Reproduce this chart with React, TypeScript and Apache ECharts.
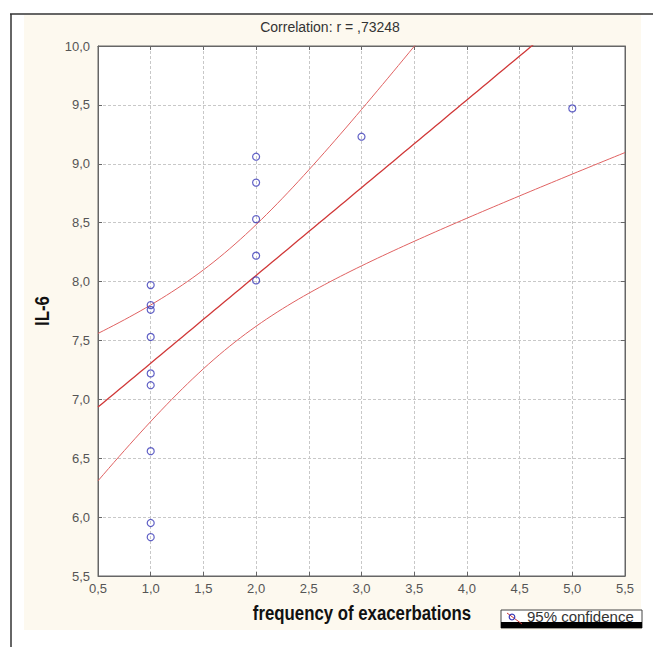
import React, { useEffect, useRef } from "react";
import * as echarts from "echarts";

// Observed points: frequency of exacerbations (x) vs IL-6 (y)
const xValues = [1, 1, 1, 1, 1, 1, 1, 1, 1, 2, 2, 2, 2, 2, 3, 5];
const yValues = [7.97, 7.8, 7.76, 7.53, 7.22, 7.12, 6.56, 5.95, 5.83, 9.06, 8.84, 8.53, 8.22, 8.01, 9.23, 9.47];
const xTicks = [0.5, 5.5, 0.5]; // min, max, interval
const yTicks = [5.5, 10, 0.5];
const titleText = "Correlation: r = ,73248";
const xName = "frequency of exacerbations";
const yName = "IL-6";
const legendText = "95% confidence";
const T_975_DF14 = 2.1448;

function fitStats() {
  const n = xValues.length;
  const mx = xValues.reduce((a, b) => a + b, 0) / n;
  const my = yValues.reduce((a, b) => a + b, 0) / n;
  let sxx = 0, sxy = 0;
  for (let i = 0; i < n; i++) {
    sxx += (xValues[i] - mx) ** 2;
    sxy += (xValues[i] - mx) * (yValues[i] - my);
  }
  const b = sxy / sxx;
  const a = my - b * mx;
  let sse = 0;
  for (let i = 0; i < n; i++) sse += (yValues[i] - (a + b * xValues[i])) ** 2;
  const s = Math.sqrt(sse / (n - 2));
  return { n, mx, sxx, a, b, s };
}

const fmt = (v: number) => v.toFixed(1).replace(".", ",");

export default function App() {
  const ref = useRef<HTMLDivElement>(null);
  useEffect(() => {
    document.body.style.margin = "0";
    if (!ref.current) return;
    const chart = echarts.init(ref.current, null, { renderer: "svg" });
    const { n, mx, sxx, a, b, s } = fitStats();
    const fitLine: number[][] = [];
    const upper: number[][] = [];
    const lower: number[][] = [];
    for (let k = 0; k <= 100; k++) {
      const x = xTicks[0] + ((xTicks[1] - xTicks[0]) * k) / 100;
      const yh = a + b * x;
      const hw = T_975_DF14 * s * Math.sqrt(1 / n + (x - mx) ** 2 / sxx);
      fitLine.push([x, yh]);
      upper.push([x, yh + hw]);
      lower.push([x, yh - hw]);
    }
    const font = "'Liberation Sans', Arial, sans-serif";
    const boldFont = "'Liberation Sans', Arial, sans-serif";
    const axisCommon = {
      axisLine: { show: true, lineStyle: { color: "#666", width: 1 } },
      axisTick: { show: true, inside: true, length: 4, lineStyle: { color: "#666" } },
    };
    chart.setOption({
      animation: false,
      backgroundColor: "#ffffff",
      graphic: [
        { type: "rect", z: -10, shape: { x: 24, y: 15, width: 617, height: 615 }, style: { fill: "#fdf9ef" } },
        { type: "line", shape: { x1: 10, y1: 14, x2: 653, y2: 14 }, style: { stroke: "#333", lineWidth: 1.5 } },
        { type: "line", shape: { x1: 11, y1: 14, x2: 11, y2: 647 }, style: { stroke: "#333", lineWidth: 1.5 } },
        {
          type: "text", x: 330, y: 27,
          style: { text: titleText, fill: "#333", font: `14px ${font}`, textAlign: "center", textVerticalAlign: "middle" },
        },
        {
          type: "text", x: 362, y: 613, scaleX: 0.8,
          style: { text: xName, fill: "#111", font: `bold 21px ${boldFont}`, textAlign: "center", textVerticalAlign: "middle" },
        },
        {
          type: "text", x: 42, y: 311, rotation: Math.PI / 2, scaleX: 0.8,
          style: { text: yName, fill: "#111", font: `bold 21px ${boldFont}`, textAlign: "center", textVerticalAlign: "middle" },
        },
        { type: "rect", shape: { x: 501, y: 610, width: 141, height: 18 }, style: { fill: "#fff", stroke: "#444", lineWidth: 1 } },
        { type: "rect", shape: { x: 501, y: 622, width: 141, height: 6 }, style: { fill: "#000" } },
        { type: "line", shape: { x1: 507, y1: 613, x2: 522, y2: 624 }, style: { stroke: "#d03a3a", lineWidth: 1 } },
        { type: "circle", shape: { cx: 512, cy: 617, r: 2.8 }, style: { fill: "none", stroke: "#3a3ab8", lineWidth: 1.2 } },
        {
          type: "text", x: 527, y: 616,
          style: { text: legendText, fill: "#333", font: `15px ${font}`, textAlign: "left", textVerticalAlign: "middle" },
        },
      ],
      grid: { left: 98, top: 46, width: 527, height: 530, show: true, backgroundColor: "#ffffff", borderColor: "#666", borderWidth: 1 },
      xAxis: [
        {
          type: "value", min: xTicks[0], max: xTicks[1], interval: xTicks[2], position: "bottom",
          ...axisCommon,
          axisLabel: { formatter: fmt, color: "#555", fontSize: 13, fontFamily: font, margin: 6 },
          splitLine: { show: true, lineStyle: { color: "#c8c8c8", type: [3, 2] } },
        },
        {
          type: "value", min: xTicks[0], max: xTicks[1], interval: xTicks[2], position: "top",
          ...axisCommon, axisLabel: { show: false }, splitLine: { show: false },
        },
      ],
      yAxis: [
        {
          type: "value", min: yTicks[0], max: yTicks[1], interval: yTicks[2], position: "left",
          ...axisCommon,
          axisLabel: { formatter: fmt, color: "#555", fontSize: 13, fontFamily: font, margin: 8 },
          splitLine: { show: true, lineStyle: { color: "#c8c8c8", type: [3, 2] } },
        },
        {
          type: "value", min: yTicks[0], max: yTicks[1], interval: yTicks[2], position: "right",
          ...axisCommon, axisLabel: { show: false }, splitLine: { show: false },
        },
      ],
      series: [
        {
          type: "line", data: upper, showSymbol: false, clip: true, silent: true,
          lineStyle: { color: "#e06262", width: 1 }, z: 2,
        },
        {
          type: "line", data: lower, showSymbol: false, clip: true, silent: true,
          lineStyle: { color: "#e06262", width: 1 }, z: 2,
        },
        {
          type: "line", data: fitLine, showSymbol: false, clip: true, silent: true,
          lineStyle: { color: "#d03838", width: 1.3 }, z: 3,
        },
        {
          type: "scatter", data: xValues.map((x, i) => [x, yValues[i]]), symbol: "circle", symbolSize: 7,
          itemStyle: { color: "transparent", borderColor: "#3a3ab8", borderWidth: 1.2 }, z: 4,
        },
      ],
    });
    return () => chart.dispose();
  }, []);
  return <div ref={ref} style={{ width: 653, height: 647 }} />;
}
